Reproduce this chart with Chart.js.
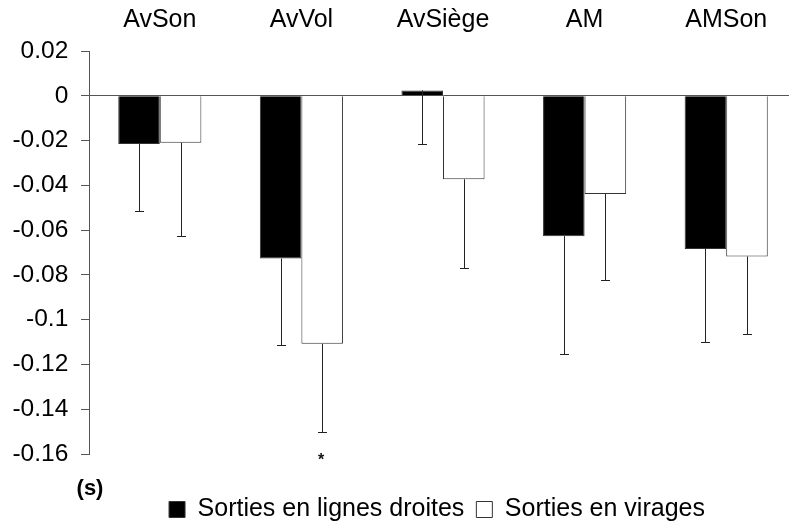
<!DOCTYPE html>
<html>
<head>
<meta charset="utf-8">
<script src="https://cdn.jsdelivr.net/npm/chart.js@4/dist/chart.umd.min.js"></script>
<style>
  html, body { margin: 0; padding: 0; background: #fff; overflow: hidden; }
  #wrap { width: 797px; height: 522px; }
</style>
</head>
<body>
<div id="wrap"><canvas id="c" width="797" height="522"></canvas></div>
<script>
// Conditions tested
const categories = ['AvSon', 'AvVol', 'AvSiège', 'AM', 'AMSon'];

// Mean differences (s) and their error bars, per type of exit
const straightMeans = [-0.0215, -0.0727, 0.0024, -0.0627, -0.0684];
const straightErrors = [0.0300, 0.0387, 0.0239, 0.0528, 0.0417];
const curveMeans = [-0.0210, -0.1108, -0.0373, -0.0439, -0.0718];
const curveErrors = [0.0416, 0.0395, 0.0396, 0.0384, 0.0344];
const curveSignificance = ['', '*', '', '', ''];

const seriesNames = ['Sorties en lignes droites', 'Sorties en virages'];
const unitLabel = '(s)';

// Y axis range and step
const yMin = -0.16, yMax = 0.02, yStep = 0.02;

const FONT = "'Liberation Sans', Arial, sans-serif";

// Downward error bars with a short cap, plus significance marks
const errorBars = {
  id: 'errorBars',
  afterDatasetsDraw(chart) {
    const ctx = chart.ctx;
    const y = chart.scales.y;
    chart.data.datasets.forEach((ds, di) => {
      const meta = chart.getDatasetMeta(di);
      meta.data.forEach((bar, i) => {
        const v = ds.data[i];
        const end = v - ds.errors[i];
        const y0 = y.getPixelForValue(v);
        const y1 = Math.round(y.getPixelForValue(end)) + 0.5;
        const x = Math.round(bar.x) + 0.5;
        ctx.save();
        ctx.strokeStyle = '#222';
        ctx.lineWidth = 1;
        ctx.beginPath();
        ctx.moveTo(x, y0);
        ctx.lineTo(x, y1);
        ctx.moveTo(x - 4.5, y1);
        ctx.lineTo(x + 4.5, y1);
        ctx.stroke();
        if (ds.marks && ds.marks[i]) {
          ctx.fillStyle = '#111';
          ctx.font = 'bold 16px ' + FONT;
          ctx.textAlign = 'center';
          ctx.textBaseline = 'alphabetic';
          ctx.fillText(ds.marks[i], x - 1.5, y1 + 32);
        }
        ctx.restore();
      });
    });
  }
};

// Unit label under the y axis
const unitText = {
  id: 'unitText',
  afterDraw(chart) {
    const ctx = chart.ctx;
    ctx.save();
    ctx.fillStyle = '#000';
    ctx.font = 'bold 22px ' + FONT;
    ctx.textAlign = 'center';
    ctx.textBaseline = 'middle';
    ctx.fillText(unitLabel, chart.chartArea.left + 1, 489);
    ctx.restore();
  }
};

// Legend sits a little left of the plot centre
const legendShift = {
  id: 'legendShift',
  afterLayout(chart) {
    const lg = chart.legend;
    if (lg) { lg.left -= 6; lg.right -= 6; }
  }
};

new Chart(document.getElementById('c'), {
  type: 'bar',
  data: {
    labels: categories,
    datasets: [
      {
        label: seriesNames[0],
        data: straightMeans,
        errors: straightErrors,
        backgroundColor: '#000',
        borderColor: '#333',
        borderWidth: 1
      },
      {
        label: seriesNames[1],
        data: curveMeans,
        errors: curveErrors,
        marks: curveSignificance,
        backgroundColor: '#fff',
        borderColor: '#333',
        borderWidth: 1
      }
    ]
  },
  options: {
    responsive: false,
    animation: false,
    devicePixelRatio: 1,
    layout: { padding: { top: 0, bottom: -10, left: 0, right: 0 } },
    datasets: {
      bar: { categoryPercentage: 0.587, barPercentage: 1.0 }
    },
    plugins: {
      tooltip: { enabled: false },
      legend: {
        position: 'bottom',
        fullSize: false,
        title: {
          display: true,
          text: '',
          padding: 0,
          font: { size: 10, lineHeight: '31px' }
        },
        labels: {
          boxWidth: 16,
          boxHeight: 16,
          padding: 12,
          color: '#000',
          font: { family: FONT, size: 25 }
        }
      }
    },
    scales: {
      x: {
        position: 'top',
        afterFit(scale) { scale.height = 51; },
        grid: { display: false, drawTicks: false },
        border: { display: false },
        ticks: {
          color: '#000',
          padding: 16,
          font: { family: FONT, size: 25 }
        }
      },
      y: {
        min: yMin,
        max: yMax,
        afterFit(scale) { scale.width = 89; },
        border: { display: true, color: '#555', width: 1 },
        grid: {
          drawTicks: true,
          tickLength: 8,
          tickColor: '#555',
          color: (c) => (c.tick && Math.abs(c.tick.value) < 1e-9 ? '#555' : 'rgba(0,0,0,0)')
        },
        ticks: {
          stepSize: yStep,
          color: '#000',
          padding: 12.7,
          font: { family: FONT, size: 24.5 },
          callback: (v) => String(+Number(v).toFixed(2))
        }
      }
    }
  },
  plugins: [errorBars, unitText, legendShift]
});
</script>
</body>
</html>
